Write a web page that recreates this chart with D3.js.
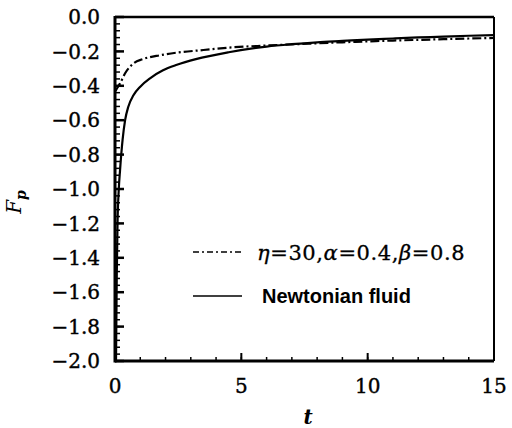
<!DOCTYPE html>
<html>
<head>
<meta charset="utf-8">
<script src="https://cdn.jsdelivr.net/npm/d3@7"></script>
<style>
  body { margin: 0; background: #fff; }
  svg { display: block; }
</style>
</head>
<body>
<div id="container"></div>
<script>
// Newtonian fluid (solid)
const tNewton = [0.04, 0.07, 0.1, 0.15, 0.2, 0.3, 0.4, 0.53, 0.73, 1, 1.4, 1.9, 2.45, 3.2, 4.5, 6, 7, 8, 9, 10, 11, 12, 13, 14, 15];
const fpNewton = [-2.0, -1.5, -1.2, -1.0, -0.89, -0.715, -0.6, -0.52, -0.455, -0.405, -0.355, -0.31, -0.278, -0.245, -0.205, -0.172, -0.158, -0.147, -0.139, -0.131, -0.125, -0.119, -0.114, -0.109, -0.105];

// eta=30, alpha=0.4, beta=0.8 (dash-dot)
const tFrac = [0.02, 0.1, 0.2, 0.4, 0.73, 1.1, 1.8, 2.45, 3.5, 4.5, 6, 7, 8, 9, 10, 11, 12, 13, 14, 15];
const fpFrac = [-0.43, -0.41, -0.386, -0.327, -0.27, -0.245, -0.222, -0.207, -0.192, -0.178, -0.166, -0.159, -0.153, -0.147, -0.142, -0.137, -0.133, -0.129, -0.125, -0.122];

const xTicks = [0, 5, 10, 15];
const yTicks = [0, -0.2, -0.4, -0.6, -0.8, -1.0, -1.2, -1.4, -1.6, -1.8, -2.0];
const xMinor = d3.range(0, 15.01, 1);
const yMinor = d3.range(0, -2.001, -0.04);

const legendLabels = ['η=30,α=0.4,β=0.8', 'Newtonian fluid'];

const w = 512, h = 428;
const mLeft = 115, mRight = 494, mTop = 17, mBottom = 361;

const svg = d3.select('#container').append('svg')
    .attr('width', w)
    .attr('height', h);

const x = d3.scaleLinear().domain([0, 15]).range([mLeft, mRight]);
const y = d3.scaleLinear().domain([-2, 0]).range([mBottom, mTop]);

const serif = '"DejaVu Serif"';

// minor ticks (inward)
svg.append('g')
    .selectAll('line')
    .data(xMinor)
    .join('line')
    .attr('x1', d => x(d)).attr('x2', d => x(d))
    .attr('y1', mBottom).attr('y2', mBottom - 4)
    .attr('stroke', '#000').attr('stroke-width', 1.5);

svg.append('g')
    .selectAll('line')
    .data(yMinor)
    .join('line')
    .attr('x1', mLeft).attr('x2', mLeft + 5)
    .attr('y1', d => y(d)).attr('y2', d => y(d))
    .attr('stroke', '#000').attr('stroke-width', 1.5);

// major ticks
svg.append('g')
    .selectAll('line')
    .data(xTicks)
    .join('line')
    .attr('x1', d => x(d)).attr('x2', d => x(d))
    .attr('y1', mBottom).attr('y2', mBottom - 8)
    .attr('stroke', '#000').attr('stroke-width', 2);

svg.append('g')
    .selectAll('line')
    .data(yTicks)
    .join('line')
    .attr('x1', mLeft).attr('x2', mLeft + 9)
    .attr('y1', d => y(d)).attr('y2', d => y(d))
    .attr('stroke', '#000').attr('stroke-width', 2.5);

// frame
svg.append('line').attr('x1', mLeft).attr('x2', mRight).attr('y1', mTop).attr('y2', mTop)
    .attr('stroke', '#000').attr('stroke-width', 2.5);
svg.append('line').attr('x1', mRight).attr('x2', mRight).attr('y1', mTop).attr('y2', mBottom)
    .attr('stroke', '#000').attr('stroke-width', 2);
svg.append('line').attr('x1', mLeft).attr('x2', mRight).attr('y1', mBottom).attr('y2', mBottom)
    .attr('stroke', '#000').attr('stroke-width', 3);
svg.append('line').attr('x1', mLeft).attr('x2', mLeft).attr('y1', mTop - 1).attr('y2', mBottom + 1.5)
    .attr('stroke', '#000').attr('stroke-width', 3);

// tick labels
svg.append('g')
    .selectAll('text')
    .data(xTicks)
    .join('text')
    .attr('x', d => x(d))
    .attr('y', 393)
    .attr('text-anchor', 'middle')
    .attr('stroke', '#000')
    .attr('stroke-width', 0.4)
    .style('font-family', serif)
    .style('font-size', '20px')
    .text(d => d);

svg.append('g')
    .selectAll('text')
    .data(yTicks)
    .join('text')
    .attr('x', 100)
    .attr('y', d => y(d))
    .attr('dy', '0.36em')
    .attr('text-anchor', 'end')
    .attr('stroke', '#000')
    .attr('stroke-width', 0.4)
    .style('font-family', serif)
    .style('font-size', '20px')
    .text(d => d === 0 ? '0.0' : '\u2212' + Math.abs(d).toFixed(1));

// axis titles
svg.append('text')
    .attr('x', 308)
    .attr('y', 424)
    .attr('text-anchor', 'middle')
    .style('font-family', serif)
    .style('font-style', 'italic')
    .style('font-weight', 'bold')
    .style('font-size', '20px')
    .text('t');

const fpLabel = svg.append('text')
    .attr('transform', 'translate(21, 202) rotate(-90)')
    .attr('text-anchor', 'middle')
    .style('font-family', serif)
    .style('font-style', 'italic')
    .style('font-size', '20px');
fpLabel.append('tspan').text('F');
fpLabel.append('tspan').attr('dy', 5).style('font-size', '14px').style('font-weight', 'bold').text('p');

// curves
svg.append('clipPath').attr('id', 'clip')
    .append('rect').attr('x', mLeft).attr('y', mTop).attr('width', mRight - mLeft).attr('height', mBottom - mTop);

const line = d3.line()
    .x(d => x(d[0]))
    .y(d => y(d[1]))
    .curve(d3.curveMonotoneX);

svg.append('path')
    .datum(d3.zip(tNewton, fpNewton))
    .attr('d', line)
    .attr('clip-path', 'url(#clip)')
    .attr('fill', 'none')
    .attr('stroke', '#000')
    .attr('stroke-width', 2.2);

svg.append('path')
    .datum(d3.zip(tFrac, fpFrac))
    .attr('d', line)
    .attr('clip-path', 'url(#clip)')
    .attr('fill', 'none')
    .attr('stroke', '#000')
    .attr('stroke-width', 2.2)
    .attr('stroke-dasharray', '9,3,2,3');

// legend
const legend = svg.append('g');
const legendY = [252, 296];
const dashes = ['6,3,2,3', null];

legend.selectAll('line')
    .data(legendLabels)
    .join('line')
    .attr('x1', 193).attr('x2', 242)
    .attr('y1', (d, i) => legendY[i]).attr('y2', (d, i) => legendY[i])
    .attr('stroke', '#000')
    .attr('stroke-width', 1.6)
    .attr('stroke-dasharray', (d, i) => dashes[i]);

const eqText = legend.append('text')
    .attr('x', 257)
    .attr('y', legendY[0] + 8)
    .attr('stroke', '#000')
    .attr('stroke-width', 0.3)
    .style('font-family', serif)
    .style('font-size', '21px')
    .style('letter-spacing', '0.6px');
[['η', true], ['=30,', false], ['α', true], ['=0.4,', false], ['β', true], ['=0.8', false]]
    .forEach(([s, it]) => eqText.append('tspan').style('font-style', it ? 'italic' : 'normal').text(s));

legend.append('text')
    .attr('x', 262)
    .attr('y', legendY[1] + 7)
    .style('font-family', '"Liberation Sans"')
    .style('font-weight', 'bold')
    .style('font-size', '20px')
    .text(legendLabels[1]);
</script>
</body>
</html>
